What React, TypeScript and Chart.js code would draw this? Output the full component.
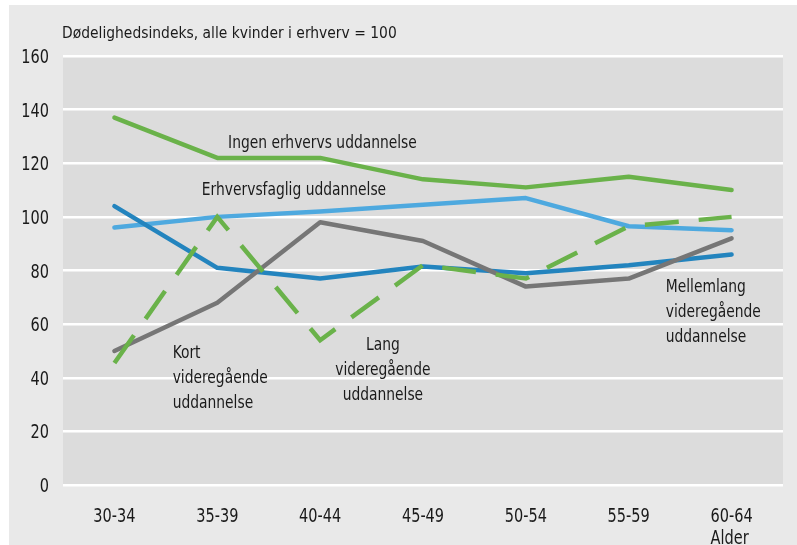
import React, { useEffect, useRef } from "react";
import { Chart, registerables } from "chart.js";

Chart.register(...registerables);

const categories: string[] = ["30-34", "35-39", "40-44", "45-49", "50-54", "55-59", "60-64"];
const axisTitleX = "Alder";
const ingenErhvervsUddannelse = [137, 122, 122, 114, 111, 115, 110];
const erhvervsfagligUddannelse = [96, 100, 102, 104.5, 107, 96.5, 95];
const kortVideregaaende = [104, 81, 77, 81.5, 79, 82, 86];
const mellemlangVideregaaende = [50, 68, 98, 91, 74, 77, 92];
const langVideregaaende = [45.5, 100, 54, 82, 77, 96.5, 100];
const yTickValues = [0, 20, 40, 60, 80, 100, 120, 140, 160];
const titleText = "Dødelighedsindeks, alle kvinder i erhverv = 100";

// label text lines, anchored in data space (category index, value)
const seriesLabels = [
  { lines: ["Ingen erhvervs uddannelse"], idx: 1.105, val: 125.7, align: "left" },
  { lines: ["Erhvervsfaglig uddannelse"], idx: 0.85, val: 108.2, align: "left" },
  { lines: ["Kort", "videregående", "uddannelse"], idx: 0.566, val: 47.2, align: "left" },
  { lines: ["Lang", "videregående", "uddannelse"], idx: 2.61, val: 50.3, align: "center" },
  { lines: ["Mellemlang", "videregående", "uddannelse"], idx: 5.36, val: 72, align: "left" },
];

const FONT = "'DejaVu Sans Condensed', 'DejaVu Sans', sans-serif";
const TEXT = "#1a1a1a";
const GREEN = "#6ab24a";
const LIGHTBLUE = "#4ea9df";
const DARKBLUE = "#2384be";
const GRAY = "#767676";

function drawText(ctx: CanvasRenderingContext2D, text: string, x: number, y: number, align: CanvasTextAlign, size: number, sx: number) {
  ctx.save();
  ctx.translate(x, y);
  ctx.scale(sx, 1);
  ctx.font = `${size}px ${FONT}`;
  ctx.fillStyle = TEXT;
  ctx.textAlign = align;
  ctx.textBaseline = "alphabetic";
  ctx.fillText(text, 0, 0);
  ctx.restore();
}

const bgPlugin = {
  id: "bgPlugin",
  beforeDraw(chart: any) {
    const { ctx, chartArea } = chart;
    ctx.save();
    ctx.fillStyle = "#ffffff";
    ctx.fillRect(0, 0, chart.width, chart.height);
    ctx.fillStyle = "#e9e9e9";
    ctx.fillRect(9, 5, chart.width - 9, chart.height - 5);
    ctx.fillStyle = "#dcdcdc";
    ctx.fillRect(chartArea.left, chartArea.top, chartArea.right - chartArea.left, chartArea.bottom - chartArea.top);
    ctx.restore();
  },
  afterDraw(chart: any) {
    const { ctx, chartArea } = chart;
    const xs = chart.scales.x;
    const ys = chart.scales.y;
    // title
    drawText(ctx, titleText, 62, 38, "left", 16.5, 0.935);
    // y tick labels
    ys.ticks.forEach((t: any, i: number) => {
      const y = ys.getPixelForTick(i);
      drawText(ctx, String(t.value), chartArea.left - 14, y + 7, "right", 19, 0.85);
    });
    // x tick labels
    xs.ticks.forEach((t: any, i: number) => {
      const x = xs.getPixelForTick(i);
      drawText(ctx, categories[i], x, chartArea.bottom + 37, "center", 19, 0.85);
    });
    const lastX = xs.getPixelForTick(categories.length - 1);
    drawText(ctx, axisTitleX, lastX - 2, chartArea.bottom + 59, "center", 19, 0.85);
  },
};

const labelPlugin = {
  id: "labelPlugin",
  afterDatasetsDraw(chart: any) {
    const { ctx } = chart;
    const xs = chart.scales.x;
    const ys = chart.scales.y;
    const step = xs.getPixelForValue(1) - xs.getPixelForValue(0);
    for (const l of seriesLabels) {
      const x = xs.getPixelForValue(0) + l.idx * step;
      const y = ys.getPixelForValue(l.val);
      l.lines.forEach((t, i) => drawText(ctx, t, x, y + i * 25, l.align as CanvasTextAlign, 18, 0.855));
    }
  },
};

export default function App() {
  const ref = useRef<HTMLCanvasElement | null>(null);
  useEffect(() => {
    if (!ref.current) return;
    const common = { pointRadius: 0, pointHoverRadius: 0, borderWidth: 4.5, tension: 0, fill: false, borderCapStyle: "round", borderJoinStyle: "round" };
    const chart = new Chart(ref.current, {
      type: "line",
      data: {
        labels: categories,
        datasets: [
          { ...common, label: "Lang videregående uddannelse", data: langVideregaaende, borderColor: GREEN, borderDash: [34, 20], borderCapStyle: "butt", borderJoinStyle: "miter" },
          { ...common, label: "Ingen erhvervs uddannelse", data: ingenErhvervsUddannelse, borderColor: GREEN },
          { ...common, label: "Mellemlang videregående uddannelse", data: mellemlangVideregaaende, borderColor: GRAY },
          { ...common, label: "Kort videregående uddannelse", data: kortVideregaaende, borderColor: DARKBLUE },
          { ...common, label: "Erhvervsfaglig uddannelse", data: erhvervsfagligUddannelse, borderColor: LIGHTBLUE },
        ] as any,
      },
      options: {
        responsive: false,
        animation: false,
        devicePixelRatio: 1,
        layout: { padding: { top: 56, right: 14, bottom: 0, left: 0 } },
        plugins: { legend: { display: false }, tooltip: { enabled: false } },
        scales: {
          x: {
            offset: true,
            grid: { display: false, drawTicks: false },
            border: { display: false },
            ticks: { display: false, autoSkip: false, maxRotation: 0 },
            afterFit: (s: any) => { s.height = 60; },
          },
          y: {
            min: 0,
            max: 160,
            afterBuildTicks: (s: any) => { s.ticks = yTickValues.map((v) => ({ value: v })); },
            grid: { color: "#ffffff", lineWidth: 2.5, drawTicks: false },
            border: { display: false },
            ticks: { display: false },
            afterFit: (s: any) => { s.width = 63; },
          },
        },
      },
      plugins: [bgPlugin, labelPlugin],
    } as any);
    return () => chart.destroy();
  }, []);
  return (
    <div style={{ position: "absolute", left: 0, top: 0, width: 797, height: 545 }}>
      <canvas ref={ref} width={797} height={545} style={{ width: 797, height: 545, display: "block" }} />
    </div>
  );
}
